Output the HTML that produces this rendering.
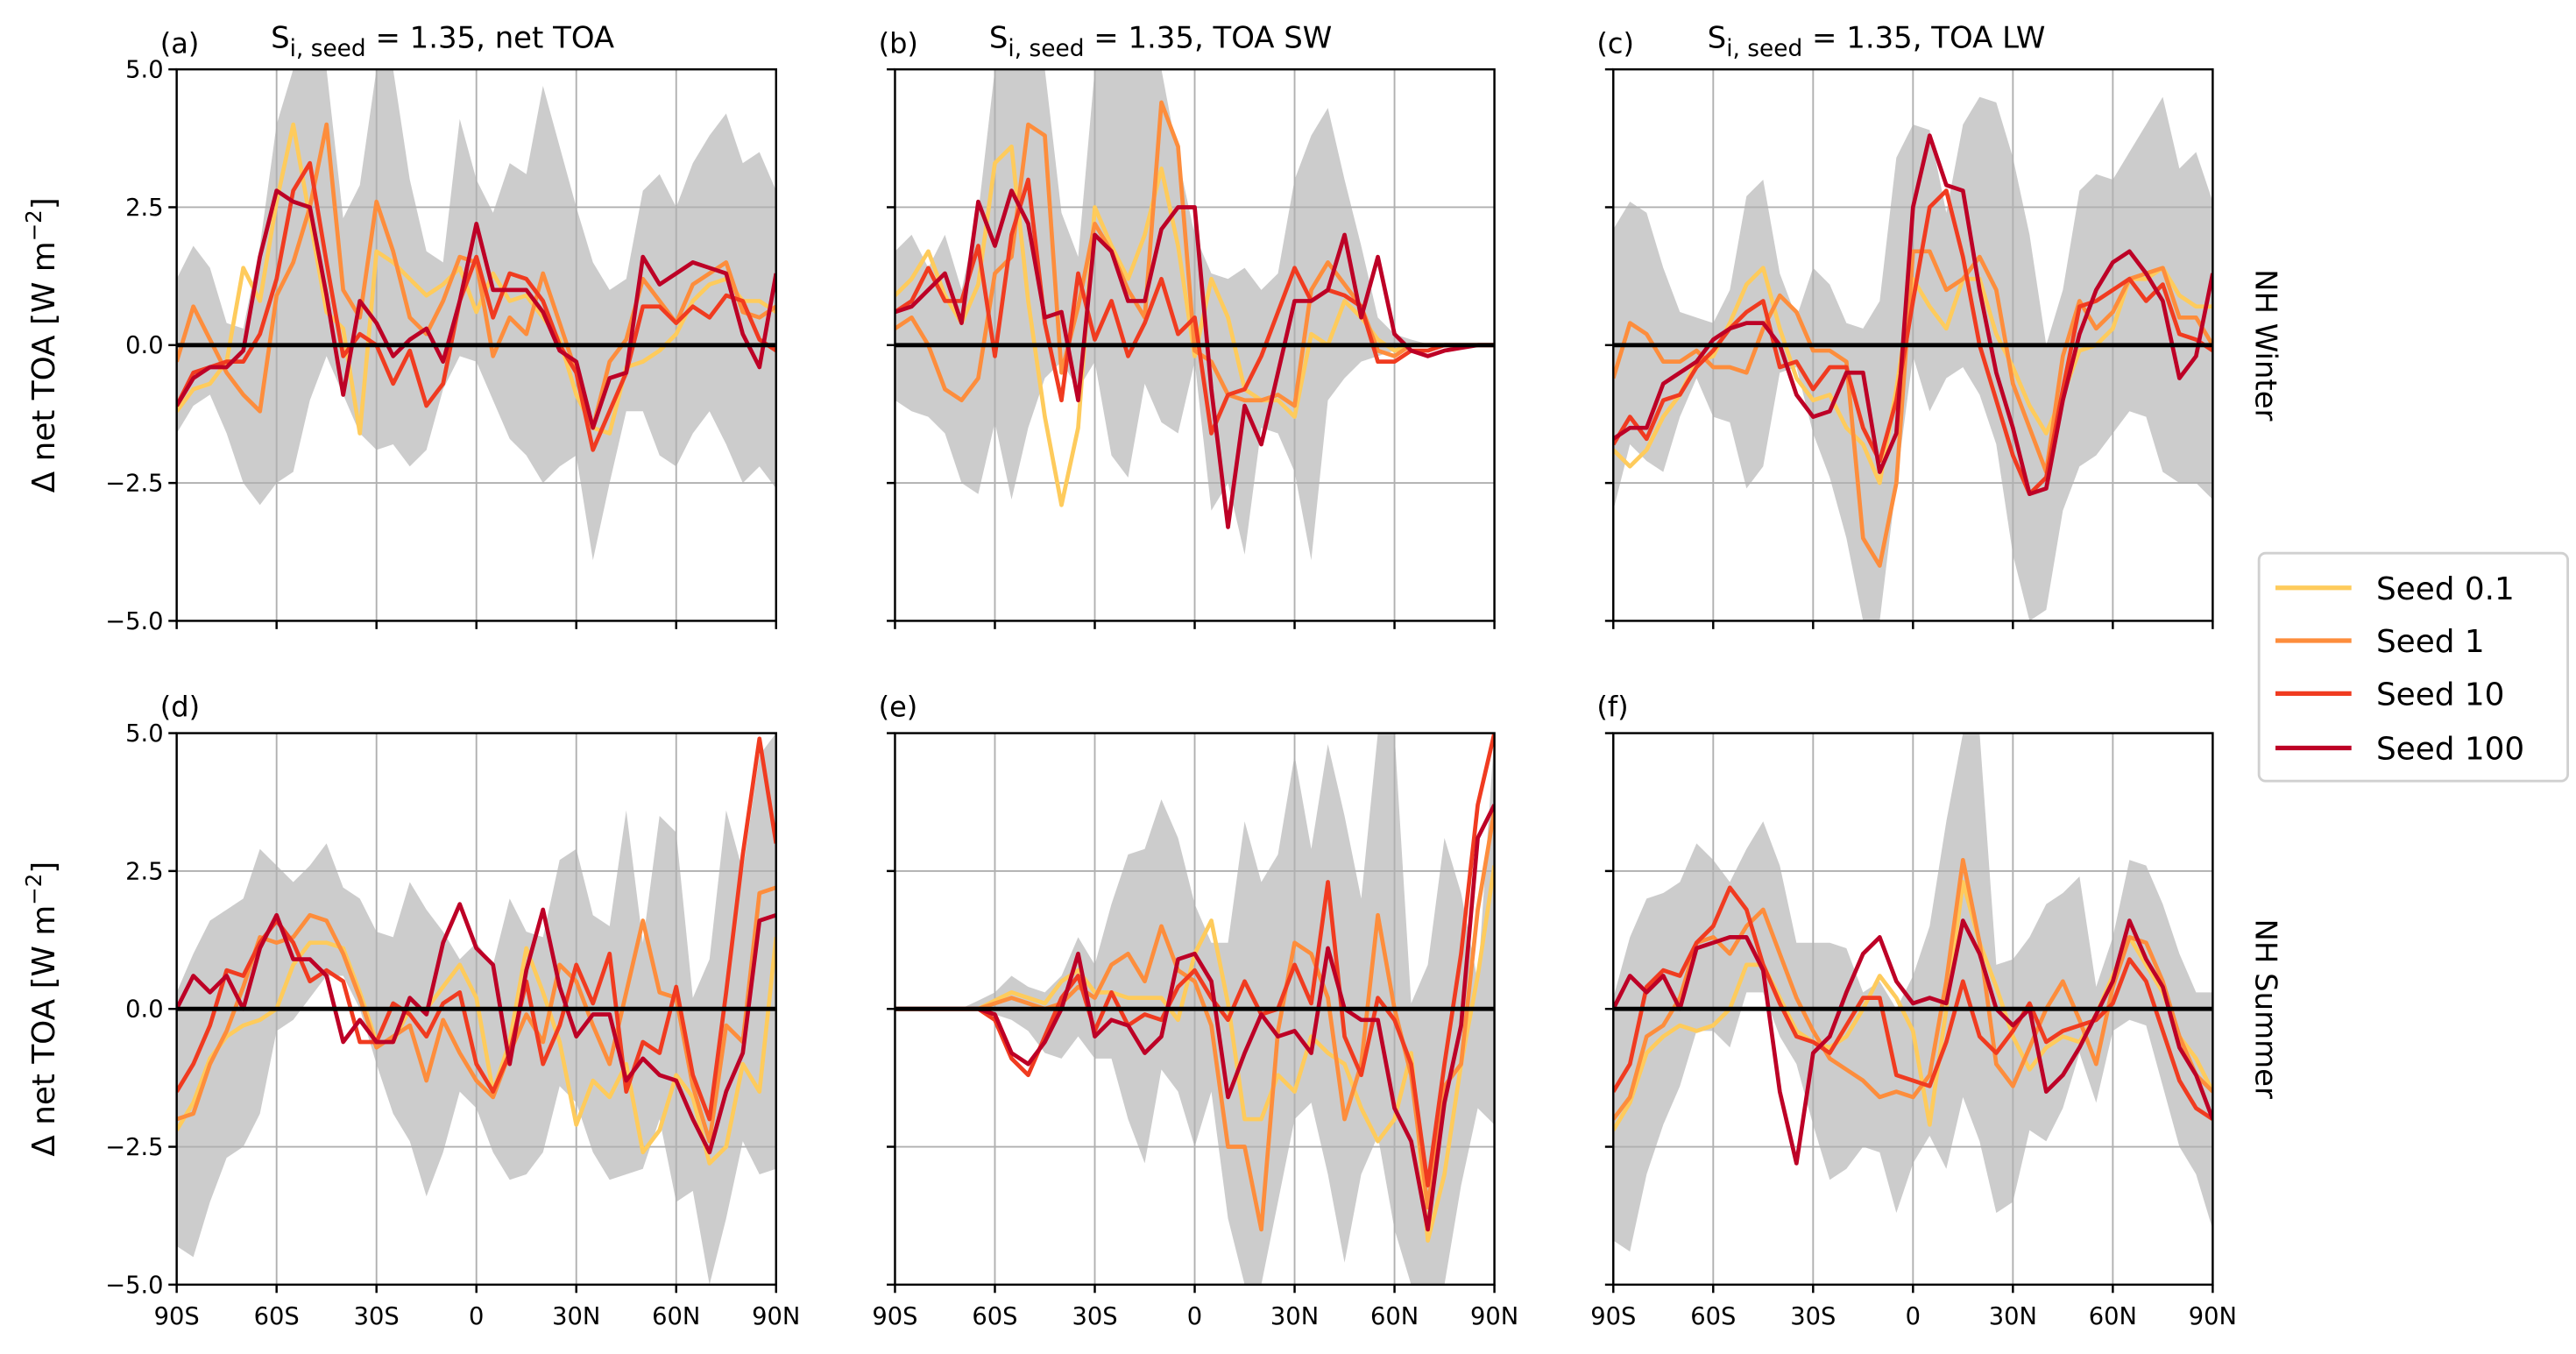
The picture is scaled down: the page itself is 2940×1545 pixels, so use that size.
<!DOCTYPE html>
<html><head><meta charset="utf-8">
<style>
html,body{margin:0;padding:0;background:#fff;}
svg{display:block;}
text{font-family:"DejaVu Sans","Liberation Sans",sans-serif;fill:#000;}
</style></head>
<body>
<svg id="fig" width="2940" height="1545" viewBox="0 0 1560 820" preserveAspectRatio="none" xmlns="http://www.w3.org/2000/svg">
<rect x="0" y="0" width="1560" height="820" fill="#fff"/>
<g id="layer"></g>
<g>
  <rect x="1368" y="335" width="187" height="138" rx="4" fill="#fff" stroke="#d0d0d0" stroke-width="1.5"/>
  <line x1="1378" y1="356" x2="1424" y2="356" stroke="#fecb5c" stroke-width="2.8"/>
  <text x="1439" y="363" font-size="19">Seed 0.1</text>
  <line x1="1378" y1="388" x2="1424" y2="388" stroke="#fd8d3c" stroke-width="2.8"/>
  <text x="1439" y="395" font-size="19">Seed 1</text>
  <line x1="1378" y1="420" x2="1424" y2="420" stroke="#f03b20" stroke-width="2.8"/>
  <text x="1439" y="427" font-size="19">Seed 10</text>
  <line x1="1378" y1="453" x2="1424" y2="453" stroke="#bd0026" stroke-width="2.8"/>
  <text x="1439" y="460" font-size="19">Seed 100</text>
</g>
</svg>
<script>
const lats = [-90,-85,-80,-75,-70,-65,-60,-55,-50,-45,-40,-35,-30,-25,-20,-15,-10,-5,0,5,10,15,20,25,30,35,40,45,50,55,60,65,70,75,80,85,90];
const yTickValues = [-5, -2.5, 0, 2.5, 5];
const yTickLabels = ["\u22125.0", "\u22122.5", "0.0", "2.5", "5.0"];
const xTickValues = [-90, -60, -30, 0, 30, 60, 90];
const xTickLabels = ["90S", "60S", "30S", "0", "30N", "60N", "90N"];
const seedNames = ["Seed 0.1", "Seed 1", "Seed 10", "Seed 100"];

// panel a
const aUpper = [1.2,1.8,1.4,0.4,0.3,1.8,4.0,5,5,5,2.3,2.9,5,5,3.0,1.7,1.5,4.1,3.0,2.4,3.3,3.1,4.7,3.6,2.5,1.5,1.0,1.2,2.8,3.1,2.5,3.3,3.8,4.2,3.3,3.5,2.8];
const aLower = [-1.6,-1.1,-0.9,-1.6,-2.5,-2.9,-2.5,-2.3,-1.0,-0.2,-0.9,-1.6,-1.9,-1.8,-2.2,-1.9,-0.8,-0.2,-0.3,-1.0,-1.7,-2.0,-2.5,-2.2,-2.0,-3.9,-2.5,-1.2,-1.2,-2.0,-2.2,-1.6,-1.2,-1.8,-2.5,-2.2,-2.6];
const aSeed01 = [-1.2,-0.8,-0.7,-0.3,1.4,0.8,2.6,4.0,2.3,0.6,0.3,-1.6,1.7,1.5,1.2,0.9,1.1,1.4,0.6,1.3,0.8,0.9,0.5,0.1,-0.9,-1.5,-1.6,-0.4,-0.3,-0.1,0.2,0.8,1.1,1.2,0.8,0.8,0.6];
const aSeed1 = [-0.3,0.7,0.1,-0.5,-0.9,-1.2,0.9,1.5,2.5,4.0,1.0,0.5,2.6,1.7,0.5,0.2,0.8,1.6,1.5,-0.2,0.5,0.2,1.3,0.4,-0.5,-1.5,-0.3,0.1,1.2,0.8,0.4,1.1,1.3,1.5,0.6,0.5,0.7];
const aSeed10 = [-1.1,-0.5,-0.4,-0.3,-0.3,0.2,1.2,2.8,3.3,1.5,-0.2,0.2,0,-0.7,-0.1,-1.1,-0.7,0.8,1.6,0.5,1.3,1.2,0.8,0,-0.5,-1.9,-1.2,-0.5,0.7,0.7,0.4,0.7,0.5,0.9,0.8,0.1,-0.1];
const aSeed100 = [-1.1,-0.6,-0.4,-0.4,-0.1,1.6,2.8,2.6,2.5,0.9,-0.9,0.8,0.4,-0.2,0.1,0.3,-0.3,0.8,2.2,1.0,1.0,1.0,0.6,-0.1,-0.3,-1.5,-0.6,-0.5,1.6,1.1,1.3,1.5,1.4,1.3,0.2,-0.4,1.3];
// panel b
const bUpper = [1.7,2.0,1.4,2.0,1.0,2.4,5,5,5,5,2.4,1.6,5,5,5,5,5,3.4,2.0,1.3,1.2,1.4,1.0,1.3,3.0,3.8,4.3,3.0,1.8,0.5,0.2,0.1,0.02,0.02,0.02,0.02,0.02];
const bLower = [-1.0,-1.2,-1.3,-1.6,-2.5,-2.7,-1.4,-2.8,-1.5,-0.6,-0.3,-0.8,-0.3,-2.0,-2.4,-0.7,-1.4,-1.6,-0.3,-3.0,-2.5,-3.8,-1.5,-1.6,-2.3,-3.9,-1.0,-0.6,-0.3,-0.2,-0.1,-0.02,-0.02,-0.02,-0.02,-0.02,-0.02];
const bSeed01 = [0.9,1.2,1.7,0.9,0.4,1.1,3.3,3.6,0.8,-1.3,-2.9,-1.5,2.5,1.8,1.2,2.0,3.2,1.8,-0.2,1.2,0.5,-0.8,-1.0,-1.0,-1.3,0.2,0.0,0.8,0.5,0.1,-0.1,0,0,0,0,0,0];
const bSeed1 = [0.3,0.5,0,-0.8,-1.0,-0.6,1.3,1.6,4.0,3.8,-0.5,0.7,2.2,1.7,1.0,0.5,4.4,3.6,-0.1,-0.3,-0.9,-1.0,-1.0,-0.9,-1.1,1.0,1.5,1.1,0.7,-0.1,-0.2,0,0,0,0,0,0];
const bSeed10 = [0.6,0.8,1.4,0.8,0.8,1.8,-0.2,2.0,3.0,0.4,-1.0,1.3,0.1,0.8,-0.2,0.4,1.2,0.2,0.5,-1.6,-0.9,-0.8,-0.2,0.6,1.4,0.8,1.0,0.9,0.7,-0.3,-0.3,-0.1,-0.1,0,0,0,0];
const bSeed100 = [0.6,0.7,1.0,1.3,0.4,2.6,1.8,2.8,2.2,0.5,0.6,-1.0,2.0,1.7,0.8,0.8,2.1,2.5,2.5,-0.8,-3.3,-1.1,-1.8,-0.5,0.8,0.8,1.0,2.0,0.5,1.6,0.2,-0.1,-0.2,-0.1,-0.05,0,0];
// panel c
const cUpper = [2.1,2.6,2.4,1.4,0.6,0.5,0.4,1.0,2.7,3.0,1.3,0.5,1.4,1.1,0.4,0.3,0.8,3.4,4.0,3.9,2.4,4.0,4.5,4.4,3.4,2.0,0.0,1.0,2.8,3.1,3.0,3.5,4.0,4.5,3.2,3.5,2.6];
const cLower = [-3.0,-1.8,-2.1,-2.3,-1.3,-0.6,-1.3,-1.4,-2.6,-2.2,-0.5,-0.4,-1.6,-2.4,-3.5,-5,-5,-2.5,-0.2,-1.2,-0.6,-0.4,-0.9,-1.8,-3.8,-5,-4.8,-3.0,-2.2,-2.0,-1.6,-1.2,-1.3,-2.3,-2.5,-2.5,-2.8];
const cSeed01 = [-1.9,-2.2,-1.9,-1.3,-0.9,-0.3,-0.2,0.4,1.1,1.4,0.3,-0.6,-1.0,-0.9,-1.5,-1.8,-2.5,-0.8,1.2,0.7,0.3,1.2,1.2,0.2,-0.4,-1.1,-1.6,-0.9,-0.1,0.0,0.3,1.2,1.2,1.4,0.9,0.7,0.7];
const cSeed1 = [-0.6,0.4,0.2,-0.3,-0.3,-0.1,-0.4,-0.4,-0.5,0.3,0.9,0.6,-0.1,-0.1,-0.3,-3.5,-4.0,-2.5,1.7,1.7,1.0,1.2,1.6,1.0,-0.7,-1.5,-2.3,-0.2,0.8,0.3,0.6,1.2,1.3,1.4,0.5,0.5,0.0];
const cSeed10 = [-1.8,-1.3,-1.7,-1.0,-0.9,-0.4,-0.1,0.3,0.6,0.8,-0.4,-0.3,-0.8,-0.4,-0.4,-1.5,-2.1,-1.0,0.8,2.5,2.8,1.6,0.0,-1.0,-2.0,-2.7,-2.4,-0.8,0.7,0.8,1.0,1.2,0.8,1.1,0.2,0.1,-0.1];
const cSeed100 = [-1.7,-1.5,-1.5,-0.7,-0.5,-0.3,0.1,0.3,0.4,0.4,0.0,-0.9,-1.3,-1.2,-0.5,-0.5,-2.3,-1.6,2.5,3.8,2.9,2.8,1.0,-0.5,-1.5,-2.7,-2.6,-1.0,0.2,1.0,1.5,1.7,1.3,0.8,-0.6,-0.2,1.3];
// panel d
const dUpper = [0.3,1.0,1.6,1.8,2.0,2.9,2.6,2.3,2.6,3.0,2.2,2.0,1.4,1.3,2.3,1.8,1.4,0.9,1.2,0.8,2.0,1.4,1.3,2.7,2.9,1.7,1.5,3.6,1.2,3.5,3.2,0.2,0.9,3.6,2.5,4.6,5];
const dLower = [-4.3,-4.5,-3.5,-2.7,-2.5,-1.9,-0.4,-0.2,0.2,0.6,0.6,0.0,-1.0,-1.9,-2.4,-3.4,-2.6,-1.5,-1.8,-2.6,-3.1,-3.0,-2.6,-1.4,-1.7,-2.6,-3.1,-3.0,-2.9,-2.0,-3.5,-3.3,-5,-3.8,-2.4,-3.0,-2.9];
const dSeed01 = [-2.2,-1.7,-0.9,-0.5,-0.3,-0.2,0.0,0.8,1.2,1.2,1.1,0.3,-0.6,-0.6,0.0,0.0,0.4,0.8,0.2,-1.5,-0.6,1.1,0.3,-0.6,-2.1,-1.3,-1.6,-1.0,-2.6,-2.2,-1.2,-1.6,-2.8,-2.5,-1.0,-1.5,1.3];
const dSeed1 = [-2.0,-1.9,-1.0,-0.4,0.4,1.3,1.2,1.3,1.7,1.6,1.0,0.2,-0.7,-0.5,-0.3,-1.3,-0.2,-0.8,-1.3,-1.6,-0.8,-0.1,-0.6,0.8,0.5,-0.3,-1.0,0.3,1.6,0.3,0.2,-1.4,-2.4,-0.3,-0.6,2.1,2.2];
const dSeed10 = [-1.5,-1.0,-0.3,0.7,0.6,1.2,1.6,1.2,0.5,0.7,0.5,-0.6,-0.6,0.1,-0.1,-0.5,0.1,0.3,-1.0,-1.5,-0.8,0.5,-1.0,-0.3,0.8,0.1,1.0,-1.5,-0.6,-0.8,0.4,-1.2,-2.0,0.3,2.8,4.9,3.0];
const dSeed100 = [0.0,0.6,0.3,0.6,0.0,1.1,1.7,0.9,0.9,0.6,-0.6,-0.2,-0.6,-0.6,0.2,-0.1,1.2,1.9,1.1,0.8,-1.0,0.7,1.8,0.4,-0.5,-0.1,-0.1,-1.3,-0.9,-1.2,-1.3,-2.0,-2.6,-1.5,-0.8,1.6,1.7];
// panel e
const eUpper = [0.01,0.01,0.01,0.01,0.01,0.15,0.3,0.6,0.4,0.3,0.6,1.3,0.8,1.9,2.8,2.9,3.8,3.1,1.9,1.2,1.2,3.4,2.3,2.8,4.6,2.9,4.8,3.5,2.0,5,5,0.1,0.8,3.1,2.1,0.5,5];
const eLower = [-0.01,-0.01,-0.01,-0.01,-0.01,-0.01,-0.1,-0.2,-0.4,-0.8,-0.9,-0.5,-0.9,-0.9,-2.0,-2.8,-1.1,-1.5,-2.5,-1.5,-3.8,-5,-5,-3.5,-2.0,-1.7,-3.0,-4.6,-3.0,-2.3,-4.0,-5,-5,-5,-3.2,-1.8,-2.1];
const eSeed01 = [0,0,0,0,0,0,0.15,0.3,0.2,0.1,0.5,0.7,0.3,0.3,0.2,0.2,0.2,-0.2,1.0,1.6,0.1,-2.0,-2.0,-1.2,-1.5,-0.5,-0.8,-1.0,-1.8,-2.4,-2.0,-0.8,-4.2,-3.0,-1.0,0.6,2.6];
const eSeed1 = [0,0,0,0,0,0,0.1,0.2,0.1,0.0,0.1,0.4,0.2,0.8,1.0,0.5,1.5,0.7,0.5,-0.3,-2.5,-2.5,-4.0,-0.4,1.2,1.0,0.2,-2.0,-1.0,1.7,0.0,-1.2,-3.6,-1.4,-1.0,1.8,3.6];
const eSeed10 = [0,0,0,0,0,0,-0.2,-0.9,-1.2,-0.5,0.2,0.6,-0.4,0.3,-0.3,-0.1,-0.2,0.4,0.7,0.2,-0.2,0.5,-0.1,0.0,0.8,0.1,2.3,-0.5,-1.2,0.2,-0.2,-1.0,-3.2,-1.0,1.0,3.7,5];
const eSeed100 = [0,0,0,0,0,0,-0.1,-0.8,-1.0,-0.6,0,1.0,-0.5,-0.2,-0.3,-0.8,-0.5,0.9,1.0,0.5,-1.6,-0.8,-0.1,-0.5,-0.4,-0.8,1.1,0.0,-0.2,-0.2,-1.8,-2.4,-4.0,-1.7,-0.3,3.1,3.7];
// panel f
const fUpper = [0.2,1.3,2.0,2.1,2.3,3.0,2.7,2.3,2.9,3.4,2.6,1.2,1.2,1.2,1.1,0.3,0.5,0.0,0.6,1.5,3.4,5,5,0.8,0.9,1.3,1.9,2.1,2.4,0.4,1.3,2.7,2.6,1.9,1.0,0.3,0.3];
const fLower = [-4.2,-4.4,-3.0,-2.1,-1.4,-0.4,-0.4,-0.7,0.3,0.3,-0.5,-1.0,-2.1,-3.1,-2.9,-2.5,-2.6,-3.7,-2.8,-2.3,-2.9,-1.6,-2.4,-3.7,-3.5,-2.2,-2.4,-1.8,-0.8,-1.7,-0.4,-0.2,-0.3,-1.4,-2.5,-3.0,-4.0];
const fSeed01 = [-2.2,-1.7,-0.8,-0.5,-0.3,-0.4,-0.3,0.0,0.8,0.8,0.2,-0.4,-0.6,-0.7,-0.5,0.0,0.6,0.2,-0.4,-2.1,0.0,2.3,1.2,0.4,-0.5,-1.1,-0.7,-0.5,-0.6,-0.1,0.6,1.3,0.8,0.3,-0.5,-0.9,-1.5];
const fSeed1 = [-2.0,-1.6,-0.5,-0.3,0.2,1.2,1.3,1.0,1.5,1.8,1.0,0.2,-0.4,-0.9,-1.1,-1.3,-1.6,-1.5,-1.6,-1.2,0.5,2.7,1.2,-1.0,-1.4,-0.7,0.0,0.5,-0.2,-1.0,0.4,1.3,1.2,0.5,-0.5,-1.2,-1.5];
const fSeed10 = [-1.5,-1.0,0.4,0.7,0.6,1.2,1.5,2.2,1.8,0.8,0.1,-0.5,-0.6,-0.8,-0.3,0.2,0.2,-1.2,-1.3,-1.4,-0.6,0.5,-0.5,-0.8,-0.4,0.1,-0.6,-0.4,-0.3,-0.2,0.1,0.9,0.5,-0.4,-1.3,-1.8,-2.0];
const fSeed100 = [0.0,0.6,0.3,0.6,0.0,1.1,1.2,1.3,1.3,0.7,-1.5,-2.8,-0.8,-0.5,0.3,1.0,1.3,0.5,0.1,0.2,0.1,1.6,1.0,0.0,-0.3,0.0,-1.5,-1.2,-0.7,-0.1,0.5,1.6,0.9,0.4,-0.7,-1.2,-2.0];

const NS = "http://www.w3.org/2000/svg";
const layer = document.getElementById("layer");
const colors = ["#fecb5c", "#fd8d3c", "#f03b20", "#bd0026"];
const colX = [107, 542, 977];
const rowY = [42, 444];
const PW = 363, PH = 334;

function mk(tag, attrs, parent) {
  const el = document.createElementNS(NS, tag);
  for (const k in attrs) el.setAttribute(k, attrs[k]);
  (parent || layer).appendChild(el);
  return el;
}

const panels = [
  {id:"a", col:0, row:0, up:aUpper, lo:aLower, s:[aSeed01,aSeed1,aSeed10,aSeed100]},
  {id:"b", col:1, row:0, up:bUpper, lo:bLower, s:[bSeed01,bSeed1,bSeed10,bSeed100]},
  {id:"c", col:2, row:0, up:cUpper, lo:cLower, s:[cSeed01,cSeed1,cSeed10,cSeed100]},
  {id:"d", col:0, row:1, up:dUpper, lo:dLower, s:[dSeed01,dSeed1,dSeed10,dSeed100]},
  {id:"e", col:1, row:1, up:eUpper, lo:eLower, s:[eSeed01,eSeed1,eSeed10,eSeed100]},
  {id:"f", col:2, row:1, up:fUpper, lo:fLower, s:[fSeed01,fSeed1,fSeed10,fSeed100]}
];
const titles = ["net TOA", "TOA SW", "TOA LW"];

const defs = mk("defs", {});
panels.forEach(p => {
  const x0 = colX[p.col], y0 = rowY[p.row];
  const xs = lat => x0 + (lat + 90) / 180 * PW;
  const ys = v => y0 + (5 - v) / 10 * PH;
  const cp = mk("clipPath", {id: "clip-" + p.id}, defs);
  mk("rect", {x: x0, y: y0, width: PW, height: PH}, cp);

  const g = mk("g", {});
  
  
  const gc = mk("g", {"clip-path": "url(#clip-" + p.id + ")"}, g);

  let d = "";
  lats.forEach((l, i) => { d += (i ? "L" : "M") + xs(l).toFixed(2) + "," + ys(p.up[i]).toFixed(2); });
  for (let i = lats.length - 1; i >= 0; i--) d += "L" + xs(lats[i]).toFixed(2) + "," + ys(p.lo[i]).toFixed(2);
  const band = mk("path", {d: d + "Z", fill: "#cccccc", stroke: "none"}, gc);
  
  

  xTickValues.forEach(v => mk("line", {x1: xs(v), x2: xs(v), y1: y0, y2: y0 + PH, stroke: "#b0b0b0", "stroke-width": 1}, gc));
  yTickValues.forEach(v => mk("line", {x1: x0, x2: x0 + PW, y1: ys(v), y2: ys(v), stroke: "#b0b0b0", "stroke-width": 1}, gc));

  p.s.forEach((arr, k) => {
    let pd = "";
    lats.forEach((l, i) => { pd += (i ? "L" : "M") + xs(l).toFixed(2) + "," + ys(arr[i]).toFixed(2); });
    const ln = mk("path", {d: pd, fill: "none", stroke: colors[k], "stroke-width": 2.5, "stroke-linejoin": "round"}, gc);
    
    
  });
  const zl = mk("line", {x1: x0, x2: x0 + PW, y1: ys(0), y2: ys(0), stroke: "#000", "stroke-width": 2.6}, g);
  
  

  const fr = mk("rect", {x: x0, y: y0, width: PW, height: PH, fill: "none", stroke: "#000", "stroke-width": 1.3}, g);
  
  

  yTickValues.forEach((v, i) => {
    mk("line", {x1: x0 - 5, x2: x0, y1: ys(v), y2: ys(v), stroke: "#000", "stroke-width": 1.3}, g);
    if (p.col === 0) {
      const t = mk("text", {x: x0 - 8, y: ys(v) + 5, "text-anchor": "end", "font-size": 14.5}, g);
      t.textContent = yTickLabels[i];
      
      
    }
  });
  xTickValues.forEach((v, i) => {
    mk("line", {x1: xs(v), x2: xs(v), y1: y0 + PH, y2: y0 + PH + 5, stroke: "#000", "stroke-width": 1.3}, g);
    if (p.row === 1) {
      const t = mk("text", {x: xs(v), y: y0 + PH + 24, "text-anchor": "middle", "font-size": 14.5}, g);
      t.textContent = xTickLabels[i];
      
      
    }
  });
  const pl = mk("text", {x: x0 - 10, y: y0 - 10, "font-size": 17}, g);
  pl.textContent = "(" + p.id + ")";
  
  
  if (p.row === 0) {
    const tt = mk("text", {x: x0 + 57, y: y0 - 13, "font-size": 18}, g);
    
    
    const s1 = mk("tspan", {}, tt); s1.textContent = "S";
    const s2 = mk("tspan", {dy: 5, "font-size": 14}, tt); s2.textContent = "i, seed";
    const s3 = mk("tspan", {dy: -5}, tt); s3.textContent = " = 1.35, " + titles[p.col];
  }
});

[0, 1].forEach(r => {
  const cy = rowY[r] + PH / 2;
  const t = mk("text", {x: 0, y: 0, "text-anchor": "middle", "font-size": 19, transform: "translate(33," + cy + ") rotate(-90)"});
  
  
  const a = mk("tspan", {}, t); a.textContent = "\u0394 net TOA [W m";
  const b = mk("tspan", {dy: -8, "font-size": 13}, t); b.textContent = "\u22122";
  const c = mk("tspan", {dy: 8}, t); c.textContent = "]";
  const rl = mk("text", {x: 0, y: 0, "text-anchor": "middle", "font-size": 18, transform: "translate(1366," + cy + ") rotate(90)"});
  rl.textContent = r === 0 ? "NH Winter" : "NH Summer";
  
  
});
</script>
</body></html>
